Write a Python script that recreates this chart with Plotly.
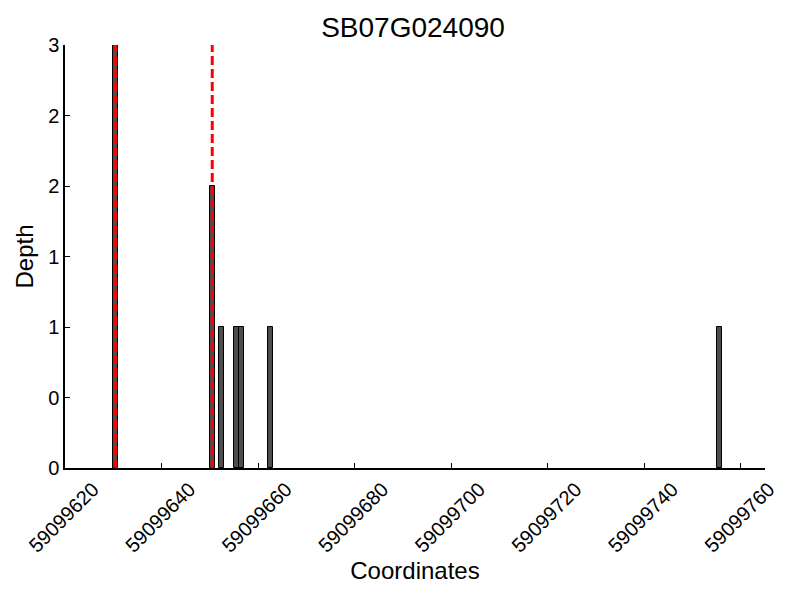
import plotly.graph_objects as go

title = "SB07G024090"
positions = [59099630, 59099650, 59099652, 59099655, 59099656, 59099662, 59099755]
depths = [3, 2, 1, 1, 1, 1, 1]
marker_lines = [59099630.5, 59099650.5]
x_ticks = [59099620, 59099640, 59099660, 59099680, 59099700, 59099720, 59099740, 59099760]
y_ticks = [0, 0.5, 1, 1.5, 2, 2.5, 3]
y_tick_text = ["0", "0", "1", "1", "2", "2", "3"]

font = "Liberation Sans, Arial, sans-serif"

# The page body adds an 8px margin, so the figure is 792x592 and shifted accordingly.
W, H = 792, 592

fig = go.Figure()
fig.add_trace(go.Bar(
    x=positions, y=depths, width=1, offset=0,
    marker=dict(color="#4d4d4d", line=dict(color="black", width=1)),
    showlegend=False,
))
for xv in marker_lines:
    fig.add_shape(type="line", x0=xv, x1=xv, y0=0, y1=3, xref="x", yref="y",
                  line=dict(color="#ff0000", width=3, dash="9px,4px"), layer="above")

fig.update_layout(
    width=W, height=H,
    margin=dict(l=57, r=35, t=37, b=132),
    plot_bgcolor="white", paper_bgcolor="white",
    font=dict(family=font, color="black", size=20),
    title=dict(text=title, x=405 / W, xanchor="center", y=1 - 19 / H, yanchor="middle",
               font=dict(size=28, family=font)),
    bargap=0,
)
fig.update_xaxes(
    range=[59099620, 59099765], tickvals=x_ticks, ticktext=[str(v) for v in x_ticks],
    tickangle=-45, ticks="inside", ticklen=5, tickcolor="black",
    showline=True, linecolor="black", linewidth=1.5, showgrid=False, zeroline=False,
    ticklabelshift=28, ticklabelstandoff=0, automargin=True,
    title=dict(text="Coordinates", font=dict(size=24), standoff=4),
    tickfont=dict(size=20),
)
fig.update_yaxes(
    range=[0, 3], tickvals=y_ticks, ticktext=y_tick_text,
    ticks="inside", ticklen=5, tickcolor="black",
    showline=True, linecolor="black", linewidth=1.5, showgrid=False, zeroline=False,
    automargin=False,
    title=dict(text="Depth", font=dict(size=24), standoff=8),
    tickfont=dict(size=20),
)

fig.write_html("out.html")
